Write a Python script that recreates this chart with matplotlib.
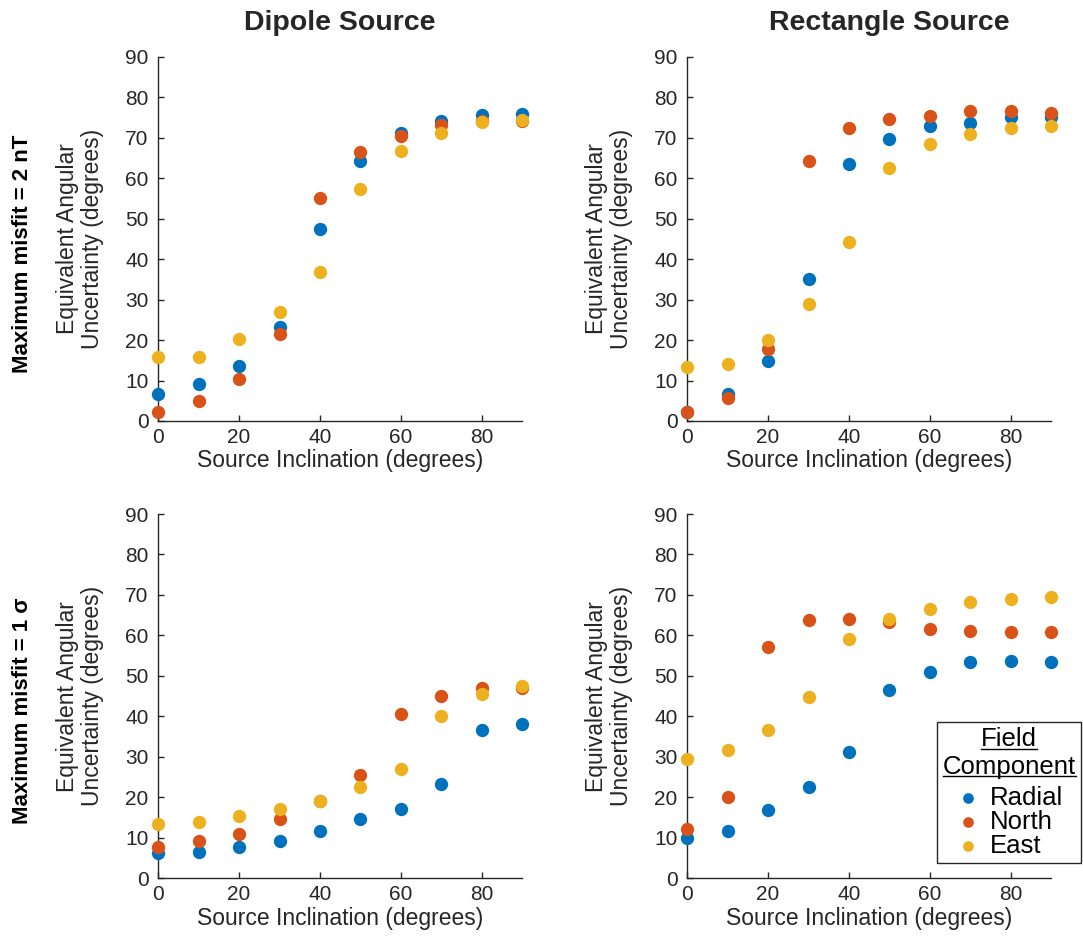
import matplotlib
matplotlib.use('Agg')
import matplotlib.pyplot as plt
from matplotlib.lines import Line2D

plt.rcParams['font.family'] = ['Liberation Sans', 'DejaVu Sans']

inclination = [0, 10, 20, 30, 40, 50, 60, 70, 80, 90]

# top-left: dipole, misfit 2 nT
dip_2nT_radial = [6.7, 9.1, 13.7, 23.3, 47.4, 64.3, 71.1, 74.2, 75.5, 75.9]
dip_2nT_north = [2.1, 5.0, 10.4, 21.5, 55.2, 66.4, 70.4, 73.1, 74.1, 74.0]
dip_2nT_east = [15.7, 15.7, 20.3, 26.9, 36.7, 57.3, 66.7, 71.1, 73.8, 74.4]

# top-right: rectangle, misfit 2 nT
rect_2nT_radial = [2.1, 6.7, 14.9, 35.1, 63.4, 69.6, 72.9, 73.7, 75.0, 75.2]
rect_2nT_north = [2.1, 5.8, 17.8, 64.3, 72.5, 74.5, 75.4, 76.6, 76.6, 76.2]
rect_2nT_east = [13.3, 14.1, 19.9, 28.9, 44.1, 62.6, 68.4, 70.8, 72.5, 72.9]

# bottom-left: dipole, misfit 1 sigma
dip_1s_radial = [6.3, 6.4, 7.7, 9.3, 11.8, 14.7, 17.2, 23.3, 36.6, 38.0]
dip_1s_north = [7.7, 9.3, 11.0, 14.7, 19.2, 25.4, 40.7, 45.1, 47.0, 47.0]
dip_1s_east = [13.4, 13.9, 15.5, 17.2, 19.1, 22.5, 27.1, 40.1, 45.6, 47.6]

# bottom-right: rectangle, misfit 1 sigma
rect_1s_radial = [10.0, 11.8, 16.8, 22.5, 31.1, 46.4, 50.9, 53.4, 53.8, 53.4]
rect_1s_north = [12.2, 20.0, 57.1, 63.7, 64.1, 63.3, 61.6, 61.2, 60.8, 60.8]
rect_1s_east = [29.5, 31.6, 36.6, 44.7, 59.2, 64.1, 66.6, 68.2, 69.1, 69.5]

components = ['Radial', 'North', 'East']
colors = ['#0072BD', '#D95319', '#EDB120']
col_titles = ['Dipole Source', 'Rectangle Source']
row_titles = ['Maximum misfit = 2 nT', 'Maximum misfit = 1 σ']

panels = [[(dip_2nT_radial, dip_2nT_north, dip_2nT_east),
           (rect_2nT_radial, rect_2nT_north, rect_2nT_east)],
          [(dip_1s_radial, dip_1s_north, dip_1s_east),
           (rect_1s_radial, rect_1s_north, rect_1s_east)]]

W, H = 1083, 944
fig = plt.figure(figsize=(W / 100, H / 100), dpi=100)
axc = '#262626'

lefts = [158.3, 687.3]
tops = [56.7, 514.0]
aw, ah = 363.7, 364.3

axes = []
for r in range(2):
    for c in range(2):
        ax = fig.add_axes([lefts[c] / W, 1 - (tops[r] + ah) / H, aw / W, ah / H])
        for series, col, name in zip(panels[r][c], colors, components):
            ax.scatter(inclination, series, s=92, color=col, label=name,
                       clip_on=False, zorder=3, linewidths=0)
        ax.set_xlim(0, 90)
        ax.set_ylim(0, 90)
        ax.set_xticks([0, 20, 40, 60, 80])
        ax.set_yticks(range(0, 91, 10))
        ax.spines['top'].set_visible(False)
        ax.spines['right'].set_visible(False)
        for s in ['left', 'bottom']:
            ax.spines[s].set_color(axc)
            ax.spines[s].set_linewidth(1.0)
        ax.tick_params(direction='in', length=4, width=1, color=axc,
                       labelcolor=axc, labelsize=15)
        ax.tick_params(axis='y', pad=7)
        ax.tick_params(axis='x', pad=5)
        ax.set_xlabel('Source Inclination (degrees)', fontsize=16.5, color=axc, va='center')
        ax.xaxis.set_label_coords(0.5, -40 / ah)
        ax.set_ylabel('Equivalent Angular\nUncertainty (degrees)', fontsize=16.5,
                      color=axc, va='center', linespacing=1.1)
        ax.yaxis.set_label_coords(-78 / aw, 0.5)
        axes.append(ax)

# column titles and row titles
fig.text(340 / W, 1 - 23 / H, col_titles[0], fontsize=20.5, fontweight='bold',
         color=axc, ha='center', va='center')
fig.text(889 / W, 1 - 23 / H, col_titles[1], fontsize=20.5, fontweight='bold',
         color=axc, ha='center', va='center')
fig.text(23 / W, 1 - 254 / H, row_titles[0], fontsize=16, fontweight='bold',
         color='black', ha='center', va='center', rotation=90)
fig.text(23 / W, 1 - 711 / H, row_titles[1], fontsize=16, fontweight='bold',
         color='black', ha='center', va='center', rotation=90)

leg = axes[3].legend(title='Field\nComponent', loc='lower right',
                     bbox_to_anchor=(0.998, 1 - 863 / H),
                     bbox_transform=fig.transFigure, borderaxespad=0,
                     fontsize=18.5, title_fontsize=18.5, handlelength=1.0,
                     handletextpad=0.35, borderpad=0.2, labelspacing=0.0,
                     fancybox=False, framealpha=1, edgecolor=axc,
                     markerscale=0.8)
leg.get_frame().set_linewidth(1.0)
leg.get_title().set_multialignment('center')
leg.get_title().set_linespacing(1.2)
leg._legend_box.sep = 5

# underline the legend title, one line per word
fig.canvas.draw()
renderer = fig.canvas.get_renderer()
title = leg.get_title()
prop = title.get_fontproperties()
tb = title.get_window_extent(renderer)
lp_w, lp_h, lp_d = renderer.get_text_width_height_descent('lp', prop, ismath=False)
cx = (tb.x0 + tb.x1) / 2
baselines = [tb.y1 - (lp_h - lp_d), tb.y0 + lp_d]
for word, base in zip(['Field', 'Component'], baselines):
    w, h, d = renderer.get_text_width_height_descent(word, prop, ismath=False)
    y = base - 2.5
    fig.add_artist(Line2D([(cx - w / 2) / W, (cx + w / 2) / W], [y / H, y / H],
                          transform=fig.transFigure, color='black', lw=1.0))

fig.savefig('out.png', dpi=100)
